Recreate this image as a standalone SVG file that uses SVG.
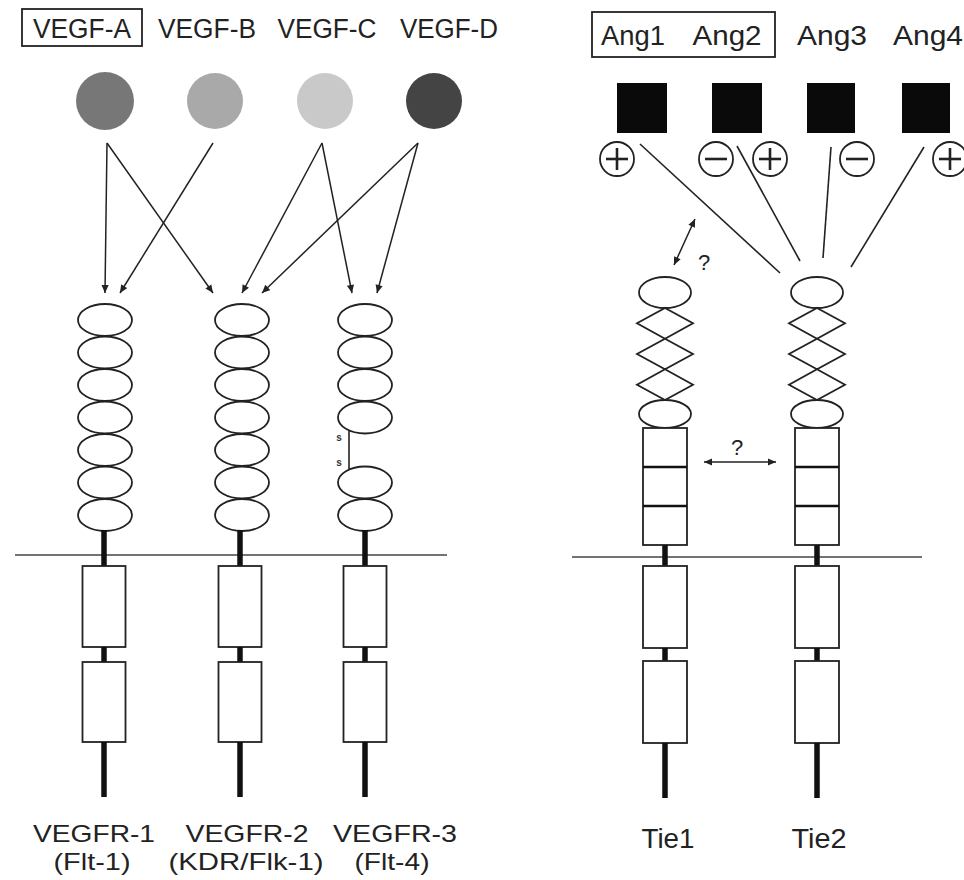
<svg xmlns="http://www.w3.org/2000/svg" width="964" height="880" viewBox="0 0 964 880">
<style>
.t{font-family:"Liberation Sans",Arial,sans-serif;font-size:27px;fill:#222}
.r{font-family:"Liberation Sans",Arial,sans-serif;font-size:24px;fill:#222}
.s{font-family:"Liberation Sans",Arial,sans-serif;font-size:10px;font-weight:bold;fill:#333}
.q{font-family:"Liberation Sans",Arial,sans-serif;font-size:22px;fill:#222}
.ov{fill:#fff;stroke:#222;stroke-width:1.8}
.bx{fill:#fff;stroke:#222;stroke-width:1.8}
.st{stroke:#111;stroke-width:5.5;fill:none}
.ln{stroke:#222;stroke-width:1.6;fill:none}
.mem{stroke:#444;stroke-width:1.6;fill:none}
.arr{stroke:#222;stroke-width:1.5;fill:none;marker-end:url(#ah)}
.dbl{stroke:#222;stroke-width:1.5;fill:none;marker-end:url(#ah);marker-start:url(#ah)}
.sq{fill:#0a0a0a}
.pm{fill:#fff;stroke:#222;stroke-width:1.8}
.pml{stroke:#222;stroke-width:2.6}
.div{stroke:#111;stroke-width:2.6}
</style>
<defs>
<marker id="ah" viewBox="0 0 10 10" refX="10" refY="5" markerWidth="9" markerHeight="8" markerUnits="userSpaceOnUse" orient="auto-start-reverse">
<path d="M0,0.5 L10,5 L0,9.5 z" fill="#222"/>
</marker>
<g id="ovstack7">
<ellipse class="ov" cx="0" cy="320" rx="27" ry="16"/>
<ellipse class="ov" cx="0" cy="352.5" rx="27" ry="16"/>
<ellipse class="ov" cx="0" cy="385" rx="27" ry="16"/>
<ellipse class="ov" cx="0" cy="417.5" rx="27" ry="16"/>
<ellipse class="ov" cx="0" cy="450" rx="27" ry="16"/>
<ellipse class="ov" cx="0" cy="482.5" rx="27" ry="16"/>
<ellipse class="ov" cx="0" cy="515" rx="27" ry="16"/>
</g>
<g id="intra">
<line class="st" x1="0" y1="530" x2="0" y2="566"/>
<rect class="bx" x="-21.5" y="566" width="43" height="81"/>
<line class="st" x1="0" y1="647" x2="0" y2="662"/>
<rect class="bx" x="-21.5" y="662" width="43" height="80"/>
<line class="st" x1="0" y1="742" x2="0" y2="797"/>
</g>
<g id="tieext">
<ellipse class="ov" cx="0" cy="292.5" rx="26" ry="15.5"/>
<path class="ov" d="M0,308 L28,323.3 L0,338.7 L-28,323.3 Z"/>
<path class="ov" d="M0,338.7 L28,354 L0,369.3 L-28,354 Z"/>
<path class="ov" d="M0,369.3 L28,384.7 L0,400 L-28,384.7 Z"/>
<ellipse class="ov" cx="0" cy="414" rx="26" ry="14"/>
<rect class="bx" x="-22" y="428" width="44" height="117"/>
<line class="div" x1="-22" y1="467" x2="22" y2="467"/>
<line class="div" x1="-22" y1="506" x2="22" y2="506"/>
<line class="st" x1="0" y1="545" x2="0" y2="566"/>
<rect class="bx" x="-22" y="566" width="44" height="82"/>
<line class="st" x1="0" y1="648" x2="0" y2="661"/>
<rect class="bx" x="-22" y="661" width="44" height="82"/>
<line class="st" x1="0" y1="743" x2="0" y2="798"/>
</g>
</defs>

<!-- membranes -->
<g id="membranes">
<line class="mem" x1="15" y1="555" x2="447" y2="555"/>
<line class="mem" x1="572" y1="557" x2="922" y2="557"/>
</g>

<!-- VEGF ligands -->
<g id="vegf-a">
<rect x="22" y="9" width="120" height="37" fill="none" stroke="#222" stroke-width="1.8"/>
<text class="t" x="82" y="38" text-anchor="middle" textLength="98" lengthAdjust="spacingAndGlyphs">VEGF-A</text>
<circle cx="105" cy="101" r="29" fill="#777"/>
</g>
<g id="vegf-b">
<text class="t" x="207" y="38" text-anchor="middle" textLength="98" lengthAdjust="spacingAndGlyphs">VEGF-B</text>
<circle cx="215" cy="101" r="28" fill="#a9a9a9"/>
</g>
<g id="vegf-c">
<text class="t" x="327" y="38" text-anchor="middle" textLength="99" lengthAdjust="spacingAndGlyphs">VEGF-C</text>
<circle cx="325" cy="101" r="28" fill="#c9c9c9"/>
</g>
<g id="vegf-d">
<text class="t" x="449" y="38" text-anchor="middle" textLength="98" lengthAdjust="spacingAndGlyphs">VEGF-D</text>
<circle cx="434" cy="101" r="28" fill="#444"/>
</g>

<!-- VEGF receptors -->
<g id="vegfr-1">
<use href="#ovstack7" transform="translate(105,0)"/>
<g transform="translate(104,0)"><use href="#intra"/></g>
<text class="r" x="94" y="842" text-anchor="middle" textLength="122" lengthAdjust="spacingAndGlyphs">VEGFR-1</text>
<text class="r" x="92" y="870" text-anchor="middle" textLength="77" lengthAdjust="spacingAndGlyphs">(Flt-1)</text>
</g>
<g id="vegfr-2">
<use href="#ovstack7" transform="translate(242,0)"/>
<g transform="translate(240,0)"><use href="#intra"/></g>
<text class="r" x="247" y="842" text-anchor="middle" textLength="123" lengthAdjust="spacingAndGlyphs">VEGFR-2</text>
<text class="r" x="246" y="870" text-anchor="middle" textLength="155" lengthAdjust="spacingAndGlyphs">(KDR/Flk-1)</text>
</g>
<g id="vegfr-3">
<ellipse class="ov" cx="365" cy="320" rx="27" ry="16"/>
<ellipse class="ov" cx="365" cy="352.5" rx="27" ry="16"/>
<ellipse class="ov" cx="365" cy="385" rx="27" ry="16"/>
<ellipse class="ov" cx="365" cy="417.5" rx="27" ry="16"/>
<ellipse class="ov" cx="365" cy="482.5" rx="27" ry="16"/>
<ellipse class="ov" cx="365" cy="515" rx="27" ry="16"/>
<line class="ln" x1="349" y1="430" x2="349" y2="470"/>
<text class="s" x="339" y="441" text-anchor="middle">s</text>
<text class="s" x="339" y="466" text-anchor="middle">s</text>
<g transform="translate(365,0)"><use href="#intra"/></g>
<text class="r" x="395" y="842" text-anchor="middle" textLength="124" lengthAdjust="spacingAndGlyphs">VEGFR-3</text>
<text class="r" x="392" y="870" text-anchor="middle" textLength="75" lengthAdjust="spacingAndGlyphs">(Flt-4)</text>
</g>

<!-- Angiopoietins -->
<g id="ang1">
<rect x="592" y="12" width="183" height="45" fill="none" stroke="#222" stroke-width="1.8"/>
<text class="t" x="633" y="45" text-anchor="middle" textLength="64" lengthAdjust="spacingAndGlyphs">Ang1</text>
<rect class="sq" x="617" y="83" width="50" height="50"/>
<circle class="pm" cx="617" cy="159" r="17"/>
<line class="pml" x1="606" y1="159" x2="628" y2="159"/>
<line class="pml" x1="617" y1="148" x2="617" y2="170"/>
</g>
<g id="ang2">
<text class="t" x="727" y="45" text-anchor="middle" textLength="69" lengthAdjust="spacingAndGlyphs">Ang2</text>
<rect class="sq" x="712" y="83" width="50" height="50"/>
<circle class="pm" cx="716" cy="159" r="17"/>
<line class="pml" x1="705" y1="159" x2="727" y2="159"/>
<circle class="pm" cx="770" cy="159" r="17"/>
<line class="pml" x1="759" y1="159" x2="781" y2="159"/>
<line class="pml" x1="770" y1="148" x2="770" y2="170"/>
</g>
<g id="ang3">
<text class="t" x="832" y="45" text-anchor="middle" textLength="70" lengthAdjust="spacingAndGlyphs">Ang3</text>
<rect class="sq" x="807" y="83" width="48" height="50"/>
<circle class="pm" cx="857" cy="159" r="17"/>
<line class="pml" x1="846" y1="159" x2="868" y2="159"/>
</g>
<g id="ang4">
<text class="t" x="928" y="45" text-anchor="middle" textLength="70" lengthAdjust="spacingAndGlyphs">Ang4</text>
<rect class="sq" x="902" y="83" width="48" height="50"/>
<circle class="pm" cx="950" cy="159" r="17"/>
<line class="pml" x1="939" y1="159" x2="961" y2="159"/>
<line class="pml" x1="950" y1="148" x2="950" y2="170"/>
</g>

<!-- Tie receptors -->
<g id="tie1">
<g transform="translate(665,0)"><use href="#tieext"/></g>
<text class="t" x="668" y="848" text-anchor="middle" textLength="53" lengthAdjust="spacingAndGlyphs">Tie1</text>
</g>
<g id="tie2">
<g transform="translate(817,0)"><use href="#tieext"/></g>
<text class="t" x="819" y="848" text-anchor="middle" textLength="55" lengthAdjust="spacingAndGlyphs">Tie2</text>
</g>

<!-- connectors -->
<g id="connectors">
<line class="arr" x1="107" y1="143" x2="105" y2="293"/>
<line class="arr" x1="107" y1="143" x2="213" y2="293"/>
<line class="arr" x1="213" y1="143" x2="120" y2="293"/>
<line class="arr" x1="322" y1="143" x2="242" y2="293"/>
<line class="arr" x1="322" y1="143" x2="352" y2="293"/>
<line class="arr" x1="418" y1="143" x2="262" y2="293"/>
<line class="arr" x1="418" y1="143" x2="377" y2="293"/>
<line class="ln" x1="640" y1="144" x2="780" y2="273"/>
<line class="ln" x1="737" y1="146" x2="800" y2="261"/>
<line class="ln" x1="831" y1="147" x2="823" y2="258"/>
<line class="ln" x1="924" y1="147" x2="851" y2="267"/>
<line class="dbl" x1="695" y1="219" x2="674" y2="265"/>
<text class="q" x="698" y="270">?</text>
<line class="dbl" x1="704" y1="462" x2="776" y2="462"/>
<text class="q" x="737" y="455" text-anchor="middle">?</text>
</g>
</svg>
